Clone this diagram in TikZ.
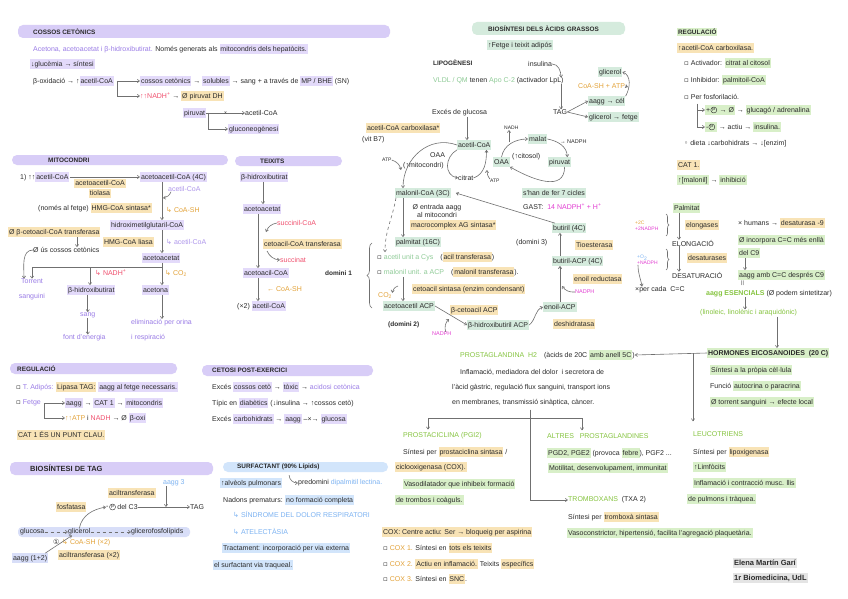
\documentclass[tikz,border=0pt]{standalone}
\usepackage{fontspec}
\setmainfont{Liberation Sans}
\newfontfamily\sym{DejaVu Sans}
\usetikzlibrary{arrows.meta,positioning,decorations.pathreplacing}
\definecolor{lav}{HTML}{D8CDF7}
\definecolor{lavl}{HTML}{E3DAFA}
\definecolor{peri}{HTML}{D8DEF8}
\definecolor{purp}{HTML}{9A7CE6}
\definecolor{mint}{HTML}{D5EBDD}
\definecolor{lime}{HTML}{D8EFC8}
\definecolor{yel}{HTML}{F8E3B6}
\definecolor{sky}{HTML}{D2E5FB}
\definecolor{sig}{HTML}{E4E4E4}
\definecolor{redt}{HTML}{F0506E}
\definecolor{orat}{HTML}{E3A33A}
\definecolor{magt}{HTML}{E23FD2}
\definecolor{grnt}{HTML}{8FCB97}
\definecolor{limt}{HTML}{86C440}
\definecolor{bluet}{HTML}{7DB3F2}
\definecolor{ink}{HTML}{2B2B2B}
\definecolor{arrc}{HTML}{707070}
\newcommand{\fs}{\fontsize{7}{8}\selectfont}
\newcommand{\hlt}[2]{{\setlength{\fboxsep}{0.9pt}\colorbox{#1}{\vphantom{Ág}#2}}}
\newcommand{\sy}[1]{{\sym #1}}
\tikzset{
  txt/.style={anchor=west,inner sep=0pt,font=\fs,text=ink},
  hd/.style={anchor=west,inner sep=0pt,font=\fontsize{6.4}{7.5}\selectfont\bfseries,text=ink},
  bar/.style={fill=#1,rounded corners=5pt},
  arr/.style={-{Straight Barb[length=2.2pt,width=3.2pt]},draw=arrc,semithick},
  ln/.style={draw=arrc,semithick},
  brc/.style={draw=arrc,semithick,decorate,decoration={brace,amplitude=#1}},
  circp/.style={circle,draw=ink,thin,inner sep=0.4pt,minimum size=6pt,font=\fontsize{4.5}{5}\selectfont,text=ink},
}
\begin{document}
\begin{tikzpicture}[x=1pt,y=-1pt]
\useasboundingbox[fill=white] (0,0) rectangle (848,599);
% cossos cetonics
\fill[bar=lav] (18,25) rectangle (390,38);
\node[hd] (hcc) at (33,31.5) {COSSOS CETÒNICS};
\node[txt] (cc1) at (33,49) {\textcolor{purp}{Acetona, acetoacetat i β-hidroxibutirat.} Només generats als \hlt{lavl}{mitocondris dels hepatòcits.}};
\node[txt] (cc2) at (30,64) {\hlt{lavl}{↓glucèmia → síntesi}};
\node[txt] (cc3) at (33,81) {β-oxidació → ↑\hlt{lavl}{acetil-CoA}};
\node[txt] (cc4) at (140,81) {\hlt{lavl}{cossos cetònics} → \hlt{lavl}{solubles} → sang + a través de \hlt{lavl}{MP / BHE} (SN)};
\node[txt] (cc5) at (140,96) {\textcolor{redt}{↑↑NADH\textsuperscript{+}} → \hlt{yel}{Ø piruvat DH}};
\node[txt] (cc6) at (183,113) {\hlt{lavl}{piruvat}};
\node[txt] (cc7) at (245,113) {acetil-CoA};
\node[txt] (cc8) at (228,129) {\hlt{lavl}{gluconeogènesi}};
\draw[arr] ([xshift=3pt]cc3.east) -- (cc4.west);
\draw[arr] ([xshift=3pt]cc3.east) |- (cc5.west);
\draw[arr] (cc6.east) -- node[txt,anchor=center,font=\fontsize{5}{5}\selectfont] (xx1) {×} (cc7.west);
\draw[arr] ([xshift=2pt]cc6.east) |- (cc8.west);
% mitocondri
\fill[bar=lav] (12,155) rectangle (228,165);
\node[hd] (hmi) at (48,160) {MITOCONDRI};
\coordinate (xm) at (162,0);
\coordinate (xa) at (77,0);
\node[txt] (m1) at (20,177) {1) ↑↑\hlt{lavl}{acetil-CoA}};
\node[txt] (m2) at (140,177) {\hlt{lavl}{acetoacetil-CoA (4C)}};
\draw[arr] (m1.east) -- (m2.west);
\node[txt,anchor=center,align=center] (m3) at (100,188.5) {\hlt{yel}{acetoacetil-CoA}\\[0pt]\hlt{yel}{tiolasa}};
\node[txt] (m4) at (168,189) {\textcolor{purp!80}{acetil-CoA}};
\node[txt] (m5) at (166,210) {\textcolor{orat}{\sy{↳} CoA-SH}};
\node[txt] (m6) at (38,208) {(només al fetge) \hlt{yel}{HMG-CoA sintasa*}};
\node[txt] (m7) at (110,225) {\hlt{lavl}{hidroximetilglutaril-CoA}};
\draw[arr] (m2.south -| xm) -- (m7.north -| xm);
\coordinate (m4e) at (163,198);
\draw[arr] ([xshift=3pt]m4.south west) to[bend left=30] (m4e);
\node[txt] (m8) at (103,242) {\hlt{yel}{HMG-CoA liasa}};
\node[txt] (m9) at (166,242) {\textcolor{purp!80}{\sy{↳} acetil-CoA}};
\node[txt] (m10) at (142,258) {\hlt{lavl}{acetoacetat}};
\draw[arr] (m7.south -| xm) -- (m10.north -| xm);
\node[txt] (m11) at (8,232) {\hlt{yel}{Ø β-cetoacil-CoA transferasa}};
\node[txt] (m12) at (33,250) {Ø ús cossos cetònics};
\draw[arr] (m11.south -| xa) -- (m12.north -| xa);
\node[txt,anchor=center,align=center] (m13) at (32,289.5) {\textcolor{purp}{Torrent}\\[7pt]\textcolor{purp}{sanguini}};
\draw[arr] (m12.west) to[out=180,in=90] ([xshift=-8pt]m13.north);
\node[txt] (m14) at (67,290) {\hlt{lavl}{β-hidroxibutirat}};
\node[txt] (m15) at (142,290) {\hlt{lavl}{acetona}};
\coordinate (jn) at (162,267);
\coordinate (jl) at (32,267);
\coordinate (jb) at (90,267);
\draw[arr] (m10.south -| xm) -- (m15.north -| xm);
\draw[ln] (jn) -- (jl);
\draw[arr] (jl) -- (jl |- m13.north);
\draw[arr] (jb) -- (jb |- m14.north);
\node[txt] (m16n) at (95,273) {\textcolor{redt}{\sy{↳} NADH\textsuperscript{+}}};
\node[txt] (m16c) at (165,273) {\textcolor{orat}{\sy{↳} CO\textsubscript{2}}};
\node[txt] (m16) at (80,315) {\textcolor{purp}{sang}};
\node[txt] (m17) at (63,338) {\textcolor{purp}{font d'energia}};
\draw[arr] (m14.south -| m16.north) -- (m16.north);
\draw[arr] (m16.south) -- (m16.south |- m17.north);
\node[txt,align=left] (m18) at (131,330) {\textcolor{purp}{eliminació per orina}\\[7pt]\textcolor{purp}{i respiració}};
\draw[arr] (m15.south -| xm) -- (m18.north -| xm);
% teixits
\fill[bar=lav] (235,156) rectangle (342,166);
\node[hd] (hte) at (260,161) {TEIXITS};
\coordinate (xt) at (258,0);
\coordinate (xt2) at (263,0);
\node[txt] (t1) at (240,177) {\hlt{lavl}{β-hidroxibutirat}};
\node[txt] (t2) at (243,209) {\hlt{lavl}{acetoacetat}};
\draw[arr] (t1.south -| xt2) -- (t2.north -| xt2);
\node[txt] (t3) at (277,223) {\textcolor{redt}{succinil-CoA}};
\node[txt] (t4) at (263,244) {\hlt{yel}{cetoacil-CoA transferasa}};
\node[txt] (t5) at (280,260) {\textcolor{redt}{succinat}};
\node[txt] (t6) at (243,273) {\hlt{lavl}{acetoacil-CoA}};
\draw[arr] (t2.south -| xt) -- (t6.north -| xt);
\coordinate (t3e) at (266,232);
\coordinate (t5s) at (267,251);
\draw[arr] (t3.west) to[bend right=30] (t3e);
\draw[arr] (t5s) to[bend right=30] (t5.west);
\node[txt] (t7) at (267,289) {\textcolor{orat}{← CoA-SH}};
\node[txt] (t8) at (237,306) {(×2) \hlt{lavl}{acetil-CoA}};
\draw[arr] (t6.south -| xt) -- (t8.north -| xt);
% regulacio (esquerra)
\fill[bar=lav] (10,363) rectangle (177,374);
\node[hd] (hrg) at (17,368.5) {REGULACIÓ};
\node[txt] (r1) at (16,387) {\sy{▫} \textcolor{purp}{T. Adipós:} \hlt{yel}{Lipasa TAG:}\ \hlt{lavl}{aagg al fetge necessaris.}};
\node[txt] (r2) at (16,403) {\sy{▫} \textcolor{purp}{Fetge}};
\node[txt] (r3) at (65,403) {\hlt{lavl}{aagg} → \hlt{lavl}{CAT 1} → \hlt{lavl}{mitocondris}};
\node[txt] (r4) at (65,418) {\textcolor{orat}{↑↑ATP} i \textcolor{redt}{NADH} → Ø \hlt{lavl}{β-oxi}};
\draw[arr] ([xshift=3pt]r2.east) -- (r3.west);
\draw[arr] ([xshift=3pt]r2.east) |- (r4.west);
\node[txt] (r5) at (17,435) {\hlt{yel}{CAT 1 ÉS UN PUNT CLAU.}};
% cetosi post-exercici
\fill[bar=lav] (202,365) rectangle (373,376);
\node[hd] (hks) at (212,370.5) {CETOSI POST-EXERCICI};
\node[txt] (k1) at (212,387) {Excés \hlt{lavl}{cossos cetò} → \hlt{lavl}{tòxic} → \textcolor{purp}{acidosi cetònica}};
\node[txt] (k2) at (212,403) {Típic en \hlt{lavl}{diabètics} (↓insulina → ↑cossos cetò)};
\node[txt] (k3) at (212,419) {Excés \hlt{lavl}{carbohidrats} → \hlt{lavl}{aagg} –×→ \hlt{lavl}{glucosa}};
% biosintesi de TAG
\fill[bar=lav] (10,462) rectangle (213,475);
\node[hd,font=\fontsize{7.5}{8}\selectfont\bfseries] (htg) at (30,468.5) {BIOSÍNTESI DE TAG};
\node[txt] (g1) at (163,483) {\textcolor{bluet}{aagg 3}};
\node[txt] (g2) at (108,493) {\hlt{yel}{aciltransferasa}};
\node[txt] (g3) at (56,507) {\hlt{yel}{fosfatasa}};
\node[txt] (g4) at (106,507) {-};
\node[circp,right=0.6pt of g4] (g4p) {P};
\node[txt,right=1.5pt of g4p] (g4b) {del C3};
\node[txt] (g5) at (190,507) {TAG};
\coordinate (gj) at (166,507);
\draw[arr] (g4b.east) -- (g5.west);
\draw[arr] (g1.south -| gj) -- (gj);
\fill[peri,rounded corners=4pt] (18,527) rectangle (190,537);
\node[txt] (g6a) at (20,532) {glucosa};
\node[txt] (g6b) at (68,532) {glicerol};
\node[txt] (g6c) at (131,532) {glicerofosfolípids};
\draw[arr,dashed] (g6a.east) -- (g6b.west);
\draw[arr,dashed] (g6b.east) -- (g6c.west);
\draw[arr] (g6b.north) to[out=80,in=190] (g4.west);
\node[txt] (g7) at (53,542) {\sy{①}};
\node[txt] (g8) at (62,543) {\textcolor{orat}{\sy{↳} CoA-SH (×2)}};
\node[txt] (g9) at (12,558) {\hlt{peri}{aagg (1+2)}};
\node[txt] (g10) at (58,555) {\hlt{yel}{aciltransferasa (×2)}};
\draw[arr] ([xshift=-3pt]g9.north east) -- ([xshift=4pt]g6b.south west);
% surfactant
\fill[bar=sky] (223,462) rectangle (388,472);
\node[hd] (hsf) at (237,467) {SURFACTANT (90\% Lípids)};
\node[txt] (s1) at (220,483) {\hlt{sky}{↑alvèols pulmonars}};
\node[txt] (s2) at (298,483) {predomini \textcolor{bluet}{dipalmitil lectina.}};
\draw[arr] ([xshift=7pt,yshift=3pt]s1.north east) to[out=-90,in=180] (s2.west);
\node[txt] (s3) at (223,500) {Nadons prematurs: \hlt{sky}{no formació completa}};
\node[txt] (s4) at (233,515) {\textcolor{bluet}{\sy{↳} SÍNDROME DEL DOLOR RESPIRATORI}};
\node[txt] (s5) at (233,532) {\textcolor{bluet}{\sy{↳} ATELECTÀSIA}};
\node[txt] (s6) at (222,548) {\hlt{sky}{Tractament: incorporació per via externa}};
\node[txt] (s7) at (213,565) {\hlt{sky}{el surfactant via traqueal.}};
% biosintesi dels acids grassos
\fill[bar=mint] (472,22) rectangle (625,35);
\node[hd] (hag) at (488,28.5) {BIOSÍNTESI DELS ÀCIDS GRASSOS};
\node[txt] (a1) at (487,45) {\hlt{mint}{↑Fetge i teixit adipós}};
\node[hd] (a2) at (433,63) {LIPOGÈNESI};
\node[txt] (a3) at (528,64) {insulina};
\node[txt] (a4) at (433,81) {\textcolor{grnt}{VLDL / QM} tenen \textcolor{grnt}{Apo C-2} (activador LpL)};
\node[txt] (a5) at (553,112) {TAG};
\coordinate (xa5) at (561,0);
\draw[arr] (a3.east) to[out=0,in=90] (a4.north -| xa5);
\draw[arr] (a4.south -| xa5) -- (a5.north -| xa5);
\node[txt] (a6) at (598,72) {\hlt{mint}{glicerol}};
\node[txt] (a7) at (578,86) {\textcolor{orat}{CoA-SH + ATP}};
\node[txt] (a8) at (588,101) {\hlt{mint}{aagg → cél}};
\node[txt] (a9) at (588,117) {\hlt{mint}{glicerol → fetge}};
\draw[arr] (a5.east) -- (a8.west);
\draw[arr] (a5.east) -- (a9.west);
\draw[arr] (a8.north east) to[out=60,in=-20] (a6.east);
\coordinate (a7e) at (628,87);
\draw[arr] (a7.east) -- (a7e);
\node[txt] (a10) at (432,113) {Excés de glucosa};
\node[txt] (a11) at (457,145) {\hlt{mint}{acetil-CoA}};
\coordinate (xg) at (467,0);
\draw[arr] (a10.south -| xg) -- (a11.north -| xg);
\node[txt] (a12) at (366,128) {\hlt{yel}{acetil-CoA carboxilasa*}};
\node[txt] (a13) at (362,140) {(vit B7)};
\node[txt,font=\fontsize{5}{6}\selectfont] (a14) at (382,160) {ATP};
\node[txt] (a15) at (395,193) {\hlt{mint}{malonil-CoA (3C)}};
\draw[arr] (a11.west) to[out=160,in=90,looseness=1.1] ([xshift=8pt]a15.north west);
\coordinate (a14e) at (401,170);
\draw[arr] (a14.east) to[bend left=30] (a14e);
\node[txt] (a16) at (430,155) {OAA};
\node[txt] (a17) at (403,166) {(↑mitocondri)};
\node[txt] (a18) at (458,178) {citrat};
\draw[arr] (a11.south west) to[out=210,in=170,looseness=1.3] (a18.west);
\draw[arr] (a18.east) to[out=20,in=-90] ([xshift=-5pt]a11.south east);
\node[txt,font=\fontsize{5}{6}\selectfont] (a19) at (490,181) {ATP};
\coordinate (a19e) at (487,170);
\draw[arr] (a19.north west) to[bend left=20] (a19e);
\node[txt] (a20) at (493,162) {\hlt{mint}{OAA}};
\node[txt,font=\fontsize{5}{6}\selectfont] (a21) at (504,128) {NADH};
\coordinate (a21s) at (509,142);
\draw[arr] (a21s) -- (a21s |- a21.south);
\node[txt] (a22) at (528,139) {\hlt{mint}{malat}};
\draw[arr] (a20.north) to[out=80,in=180] (a22.west);
\node[txt,font=\fontsize{5.5}{6}\selectfont] (a23) at (560,142) {→ NADPH};
\node[txt] (a24) at (548,162) {\hlt{mint}{piruvat}};
\draw[arr] (a22.east) to[out=-10,in=90] ([xshift=-4pt]a24.north east);
\node[txt] (a25) at (512,157) {(↑citosol)};
\draw[arr] ([xshift=5pt]a24.south) to[out=-90,in=-30,looseness=1.2] (a20.south east);
\node[txt] (a26) at (522,193) {\hlt{mint}{s'han de fer 7 cicles}};
\node[txt] (a27) at (523,207) {GAST:\ \ \textcolor{magt}{14 NADPH\textsuperscript{+} + H\textsuperscript{+}}};
\node[txt] (a28) at (552,228) {\hlt{mint}{butiril (4C)}};
\draw[arr] ([xshift=3pt]a28.north west) -- ([xshift=5pt]a15.east);
\node[txt,anchor=center,align=center] (a29) at (437,211) {Ø entrada aagg\\[0pt]al mitocondri};
\node[txt] (a31) at (410,225) {\hlt{yel}{macrocomplex AG sintasa*}};
\node[txt] (a32) at (395,242) {\hlt{mint}{palmitat (16C)}};
\coordinate (xp) at (403,0);
\draw[arr] (a15.south -| xp) -- (a32.north -| xp);
\node[hd,font=\fontsize{6.5}{7}\selectfont\bfseries] (d1) at (325,273) {domini 1};
\draw[brc=5pt] (372,308) -- (372,243);
\node[txt] (a33) at (377,257) {\sy{▫} \textcolor{grnt}{acetil unit a Cys}\quad (\hlt{yel}{acil transferasa})};
\node[txt] (a34) at (377,272) {\sy{▫} \textcolor{grnt}{malonil unit. a ACP}\quad (\hlt{yel}{malonil transferasa}).};
\draw[arr,dashed] ([xshift=1pt]a15.south west) to[out=-100,in=90] ([xshift=8pt]a33.north west);
\node[txt] (a35) at (378,296) {\textcolor{orat}{CO\textsubscript{2}}};
\node[txt] (a36) at (412,289) {\hlt{yel}{cetoacil sintasa (enzim condensant)}};
\node[txt] (a37) at (383,306) {\hlt{mint}{acetoacetil ACP}};
\draw[arr] (a34.south -| xp) -- (a37.north -| xp);
\coordinate (c2s) at (398,286);
\draw[arr] (c2s) to[bend right=30] (a35.north east);
\node[hd,font=\fontsize{6.5}{7}\selectfont\bfseries] (d2) at (388,325) {(domini 2)};
\node[txt] (a39) at (450,310) {\hlt{yel}{β-cetoacil ACP}};
\node[txt] (a40) at (467,325) {\hlt{mint}{β-hidroxibutiril ACP}};
\draw[arr] (a37.east) -- (a40.west);
\node[txt,font=\fontsize{5.5}{6}\selectfont] (a41) at (432,334) {\textcolor{magt}{NADPH}};
\coordinate (n1) at (449,319);
\draw[arr] ([xshift=-6pt]a41.north east) to[bend left=30] (n1);
\node[txt] (a42) at (543,307) {\hlt{mint}{enoil-ACP}};
\draw[arr] (a40.east) to[out=40,in=200] (a42.west);
\node[txt] (a43) at (553,324) {\hlt{yel}{deshidratasa}};
\coordinate (xe) at (560,0);
\node[txt] (a44) at (573,279) {\hlt{yel}{enoil reductasa}};
\node[txt,font=\fontsize{5.5}{6}\selectfont] (a45) at (575,292) {\textcolor{magt}{NADPH}};
\node[txt] (a46) at (552,261) {\hlt{mint}{butiril-ACP (4C)}};
\draw[arr,thick] (a42.north -| xe) -- (a46.south -| xe);
\coordinate (n2) at (562,286);
\draw[arr] (a45.west) to[bend left=30] (n2);
\node[txt] (a47) at (575,245) {\hlt{yel}{Tioesterasa}};
\node[txt] (a48) at (516,243) {(domini 3)};
\draw[arr] (a46.north -| xe) -- (a28.south -| xe);
% regulacio (dreta)
\node[hd] (rg0) at (677,32) {\hlt{lime}{REGULACIÓ}};
\node[txt] (rg1) at (677,48) {\hlt{yel}{↑acetil-CoA carboxilasa.}};
\node[txt] (rg2) at (684,63) {\sy{▫}\ Activador: \hlt{lime}{citrat al citosol}};
\node[txt] (rg3) at (684,80) {\sy{▫}\ Inhibidor: \hlt{lime}{palmitoil-CoA}};
\node[txt] (rg4) at (684,97) {\sy{▫}\ Per fosforilació.};
\node[txt] (rg5) at (705,110) {\hlt{lime}{+\hspace{7.5pt}\ → Ø} → \hlt{lime}{glucagó / adrenalina}};
\node[circp] (rg5p) at (713.8,110) {P};
\node[txt] (rg6) at (705,127) {\hlt{lime}{-\hspace{7.5pt}} → actiu → \hlt{lime}{insulina.}};
\node[circp] (rg6p) at (711.8,127) {P};
\coordinate (rb) at (697,104);
\draw[arr] (rb) |- (rg5.west);
\draw[arr] (rb) |- (rg6.west);
\node[txt] (rg7) at (684,144) {\sy{◦}\ dieta ↓carbohidrats → ↓[enzim]};
\node[txt] (rg8) at (677,165) {\hlt{yel}{CAT 1.}};
\node[txt] (rg9) at (677,180) {\hlt{lime}{↑[malonil]} → \hlt{lime}{inhibició}};
% palmitat
\coordinate (xl) at (679,0);
\node[txt] (p1) at (673,208) {\hlt{lime}{Palmitat}};
\node[txt,align=left,font=\fontsize{5}{6}\selectfont] (p2) at (635,226) {\textcolor{orat}{+2C}\\\textcolor{magt}{+2NADPH}};
\draw[brc=3pt] (666,214) -- (666,236);
\node[txt] (p4) at (685,225) {\hlt{yel}{elongases}};
\node[txt] (p5) at (672,243) {ELONGACIÓ};
\draw[arr] (p1.south -| xl) -- (p5.north -| xl);
\node[txt,align=left,font=\fontsize{5}{6}\selectfont] (p6) at (637,260) {\textcolor{bluet}{+O\textsubscript{2}}\\\textcolor{magt}{+NADPH}};
\draw[brc=3pt] (666,249) -- (666,270);
\node[txt] (p7) at (687,258) {\hlt{yel}{desaturases}};
\node[txt] (p8) at (672,275) {DESATURACIÓ};
\draw[arr] (p5.south -| xl) -- (p8.north -| xl);
\node[txt] (p9) at (635,290) {×per cada\ \ C=C};
\draw[arr] ([xshift=1pt]p6.south west) to[out=-90,in=100] ([xshift=7pt]p9.north west);
\node[txt] (p10) at (738,223) {× humans → \hlt{yel}{desaturasa -9}};
\node[txt] (p11) at (738,240) {\hlt{lime}{Ø incorpora C=C més enllà}};
\node[txt] (p12) at (738,253) {\hlt{lime}{del C9}};
\node[txt] (p13) at (738,275) {\hlt{lime}{aagg amb C=C després C9}};
\coordinate (xh) at (745,0);
\draw[arr] (p12.south -| xh) -- (p13.north -| xh);
\node[txt,font=\fontsize{5}{6}\selectfont] (p14) at (741,283) {||};
\node[txt] (p15) at (706,294) {\textcolor{limt}{\textbf{aagg ESENCIALS}} (Ø podem sintetitzar)};
\node[txt] (p16) at (700,313) {\textcolor{limt}{(linoleic, linolènic i araquidònic)}};
\draw[arr] (p15.south -| xh) -- (p16.north -| xh);
% hormones eicosanoides
\node[hd,font=\fontsize{7}{8}\selectfont\bfseries] (h1) at (707,353) {\hlt{lime}{HORMONES EICOSANOIDES\ \ (20 C)}};
\coordinate (xv) at (777,0);
\draw[arr] (p16.south -| xv) -- (h1.north -| xv);
\node[txt] (pg1) at (460,355) {\textcolor{limt}{PROSTAGLANDINA\ \ H2}\quad (àcids de 20C \hlt{lime}{amb anell 5C})};
\draw[arr] (h1.west) -- (pg1.east);
\coordinate (xlt) at (693,0);
\node[txt] (h2) at (710,370) {\hlt{lime}{Síntesi a la pròpia cèl·lula}};
\node[txt] (h3) at (710,386) {Funció \hlt{lime}{autocrina o paracrina}};
\node[txt] (h4) at (710,402) {\hlt{lime}{Ø torrent sanguini → efecte local}};
\node[txt] (lt1) at (693,434) {\textcolor{limt}{LEUCOTRIENS}};
\draw[arr] (xlt |- h1.west) -- ([yshift=10pt]lt1.north -| xlt);
\node[txt] (lt2) at (693,452) {Síntesi per \hlt{yel}{lipoxigenasa}};
\node[txt] (lt3) at (693,467) {\hlt{lime}{↑Limfòcits}};
\node[txt] (lt4) at (693,483) {\hlt{lime}{Inflamació i contracció musc. llis}};
\node[txt] (lt5) at (687,499) {\hlt{lime}{de pulmons i tràquea.}};
\node[txt,font=\fontsize{7.5}{8}\selectfont\bfseries] (sg1) at (733,563) {\hlt{sig}{Elena Martín Garí}};
\node[txt,font=\fontsize{7.5}{8}\selectfont\bfseries] (sg2) at (733,578) {\hlt{sig}{1r Biomedicina, UdL}};
% prostaglandines
\node[txt] (pg2) at (460,372) {Inflamació, mediadora del dolor\ \ i secretora de};
\node[txt] (pg3) at (452,388) {l'àcid gàstric, regulació flux sanguini, transport ions};
\node[txt] (pg4) at (452,403) {en membranes, transmissió sinàptica, càncer.};
\coordinate (xtj) at (530,0);
\coordinate (hl1) at (428,418);
\coordinate (hr1) at (582,418);
\node[txt] (pc1) at (403,436) {\textcolor{limt}{PROSTACICLINA (PGI2)}};
\node[txt] (pc2) at (403,452) {Síntesi per \hlt{yel}{prostaciclina sintasa} /};
\node[txt] (pc3) at (395,467) {\hlt{yel}{ciclooxigenasa (COX).}};
\node[txt] (pc4) at (403,484) {\hlt{lime}{Vasodilatador que inhibeix formació}};
\node[txt] (pc5) at (395,500) {\hlt{lime}{de trombos i coàguls.}};
\node[txt] (ap1) at (547,436) {\textcolor{limt}{ALTRES\ \ \ PROSTAGLANDINES}};
\node[txt] (ap2) at (547,453) {\hlt{lime}{PGD2, PGE2} (provoca \hlt{lime}{febre}), PGF2 ...};
\node[txt] (ap3) at (548,468) {\hlt{lime}{Motilitat, desenvolupament, immunitat}};
\node[txt] (tx1) at (568,500) {\textcolor{limt}{TROMBOXANS}\ \ (TXA 2)};
\node[txt] (tx2) at (568,517) {Síntesi per \hlt{yel}{tromboxà sintasa}};
\node[txt] (tx3) at (567,533) {\hlt{lime}{Vasoconstrictor, hipertensió, facilita l'agregació plaquetària.}};
\draw[arr] ([yshift=-3pt]pg4.south -| xtj) |- (tx1.west);
\draw[ln] (hl1) -- (hr1);
\draw[arr] (hl1) -- ([yshift=3pt]hl1 |- pc1.north);
\draw[arr] (hr1) -- ([yshift=3pt]hr1 |- ap1.north);
\node[txt] (cx0) at (382,532) {\hlt{yel}{COX: Centre actiu: Ser → bloqueig per aspirina}};
\node[txt] (cx1) at (383,548) {\sy{▫}\ \textcolor{orat}{COX 1.} Síntesi en \hlt{yel}{tots els teixits}};
\node[txt] (cx2) at (383,564) {\sy{▫}\ \textcolor{orat}{COX 2.} \hlt{yel}{Actiu en inflamació.} Teixits \hlt{yel}{específics}};
\node[txt] (cx3) at (383,579) {\sy{▫}\ \textcolor{orat}{COX 3.} Síntesi en \hlt{yel}{SNC}.};
\end{tikzpicture}
\end{document}
